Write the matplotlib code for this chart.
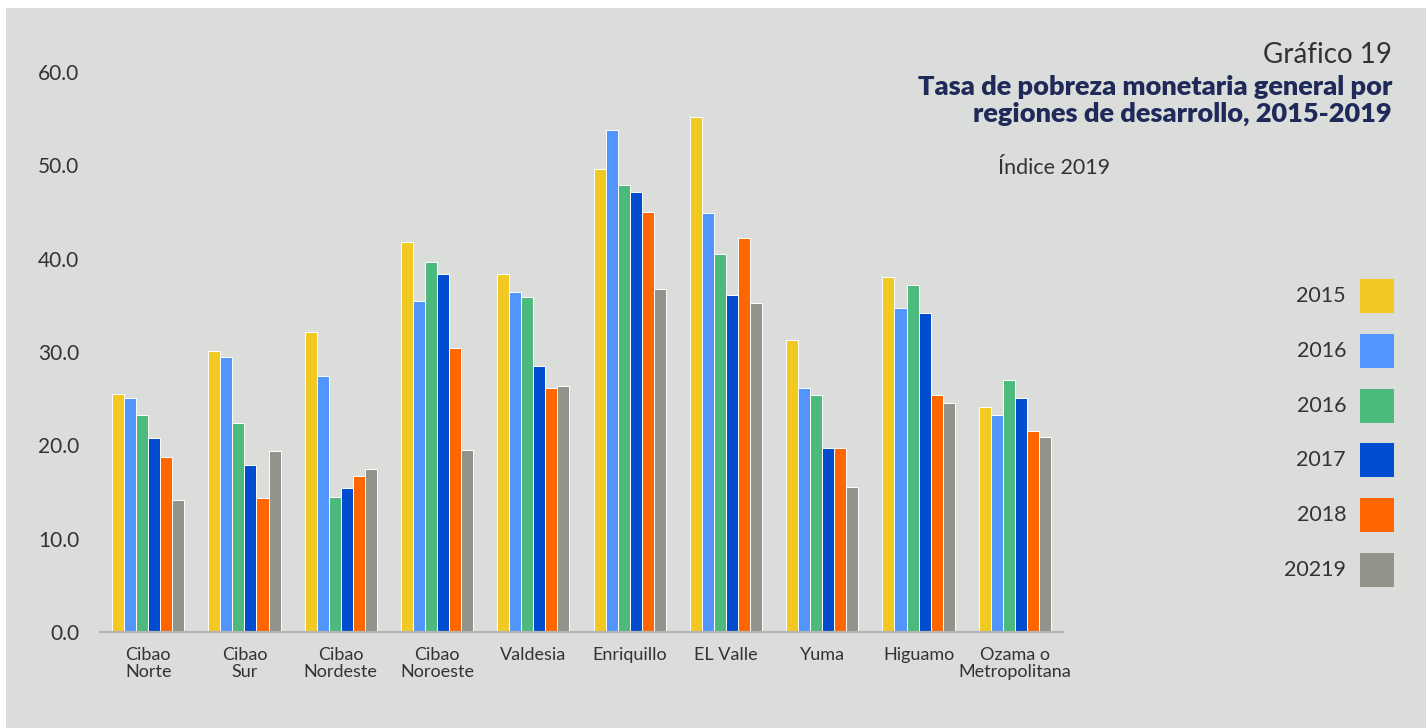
import matplotlib
matplotlib.use("Agg")
import matplotlib.pyplot as plt
from matplotlib.patches import Rectangle
import numpy as np

plt.rcParams['font.family'] = ['Lato', 'DejaVu Sans']

regions = ["Cibao\nNorte", "Cibao\nSur", "Cibao\nNordeste", "Cibao\nNoroeste", "Valdesia",
           "Enriquillo", "EL Valle", "Yuma", "Higuamo", "Ozama o\nMetropolitana"]
series_labels = ["2015", "2016", "2016", "2017", "2018", "20219"]
s2015 = [25.5, 30.1, 32.1, 41.8, 38.4, 49.6, 55.2, 31.3, 38.0, 24.1]
s2016a = [25.1, 29.5, 27.4, 35.5, 36.4, 53.8, 44.9, 26.1, 34.7, 23.25]
s2016b = [23.3, 22.4, 14.5, 39.6, 35.9, 47.9, 40.5, 25.4, 37.2, 27.0]
s2017 = [20.8, 17.9, 15.4, 38.4, 28.5, 47.1, 36.1, 19.7, 34.2, 25.1]
s2018 = [18.75, 14.4, 16.7, 30.4, 26.1, 45.0, 42.2, 19.7, 25.4, 21.5]
s2019 = [14.1, 19.4, 17.5, 19.5, 26.4, 36.75, 35.25, 15.5, 24.5, 20.9]
series = [s2015, s2016a, s2016b, s2017, s2018, s2019]
colors = ["#F2C922", "#5295FF", "#4BBA7C", "#024DCF", "#FF6600", "#92938B"]
yticks = [0, 10, 20, 30, 40, 50, 60]

W, H = 1426, 728
BG = "#DBDDDA"
fig = plt.figure(figsize=(W / 100, H / 100), dpi=100)
fig.patch.set_facecolor("white")
fig.add_artist(Rectangle((6 / W, 0), 1 - 6 / W, 1 - 8 / H, transform=fig.transFigure,
                         facecolor=BG, edgecolor="none", zorder=-10))

ax = fig.add_axes([100 / W, 1 - 632 / H, (1063 - 100) / W, (632 - 72) / H])
ax.set_facecolor("none")

x = np.arange(len(regions))
bw = 0.125
for i, (vals, c) in enumerate(zip(series, colors)):
    ax.bar(x + (i - 2.5) * bw, vals, width=bw, color=c, edgecolor="white", linewidth=0.7)

ax.set_xlim(-0.5, len(regions) - 0.5)
ax.set_ylim(0, 60)
ax.set_yticks(yticks)
ax.set_yticklabels([f"{v:.1f}" for v in yticks], fontsize=15, color="#333333")
ax.set_xticks(x)
ax.set_xticklabels(regions, fontsize=13, color="#333333", linespacing=1.08)
ax.tick_params(axis="y", length=0, pad=15)
ax.tick_params(axis="x", length=0, pad=10.5)
for s in ["top", "right", "left"]:
    ax.spines[s].set_visible(False)
ax.spines["bottom"].set_color("#B5B6B3")
ax.spines["bottom"].set_linewidth(1.6)

# Titles
fig.text(1392 / W, 1 - 55 / H, "Gráfico 19", ha="right", va="center", fontsize=20, color="#333333")
fig.text(1392 / W, 1 - 87 / H, "Tasa de pobreza monetaria general por", ha="right", va="center",
         fontsize=19.5, fontweight="heavy", color="#1F2A5A")
fig.text(1392 / W, 1 - 114 / H, "regiones de desarrollo, 2015-2019", ha="right", va="center",
         fontsize=19.5, fontweight="heavy", color="#1F2A5A")
fig.text(1054 / W, 1 - 168 / H, "Índice 2019", ha="center", va="center", fontsize=15.5, color="#333333")

# Legend (manual)
for i, (lab, c) in enumerate(zip(series_labels, colors)):
    yc = 296 + i * 54.8
    fig.add_artist(Rectangle((1360 / W, 1 - (yc + 17) / H), 34 / W, 34 / H,
                             transform=fig.transFigure, facecolor=c, edgecolor="none"))
    fig.text(1346 / W, 1 - yc / H, lab, ha="right", va="center", fontsize=15.5, color="#333333")

fig.savefig("out.png", dpi=100, facecolor=fig.get_facecolor())
